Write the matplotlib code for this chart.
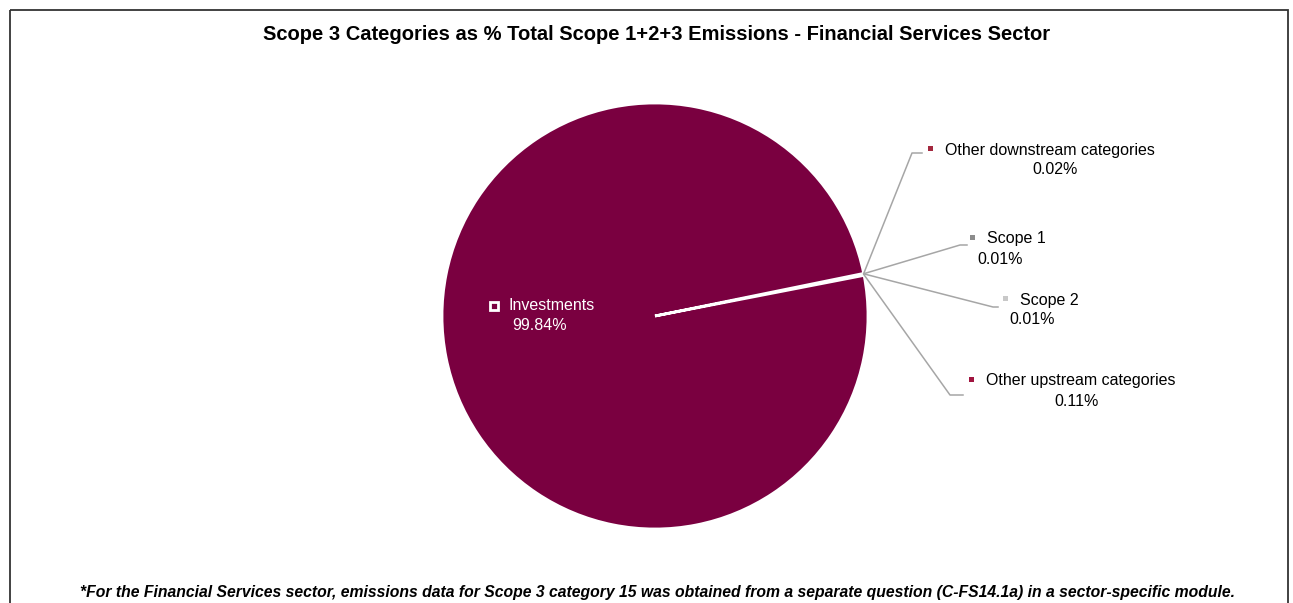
import numpy as np
import matplotlib.pyplot as plt
from matplotlib.patches import Rectangle

# ── Data ──────────────────────────────────────────────────────────────────────
categories = ["Other downstream categories", "Scope 1", "Scope 2",
              "Other upstream categories", "Investments"]
shares     = [0.02, 0.01, 0.01, 0.11, 99.84]
pct_labels = ["0.02%", "0.01%", "0.01%", "0.11%", "99.84%"]
colors     = ["#A3283E", "#8C8C8C", "#C8C8C8", "#A0143F", "#7A0040"]

title    = "Scope 3 Categories as % Total Scope 1+2+3 Emissions - Financial Services Sector"
footnote = ("*For the Financial Services sector, emissions data for Scope 3 category 15 "
            "was obtained from a separate question (C-FS14.1a) in a sector-specific module.")

# label placement in image pixels: marker x, name y, percent centre x, percent y
marker_x = [930, 972, 1005, 971, 494]
name_y   = [150, 239, 300, 381, 306]
pct_x    = [1055, 1000, 1032, 1077, 540]
pct_y    = [170, 259, 320, 401, 325]
elbows   = [((912, 153), (922, 153)), ((960, 245), (967, 245)),
            ((993, 307), (998, 307)), ((950, 395), (963, 395)), None]

plt.rcParams['font.family'] = ['Liberation Sans', 'DejaVu Sans']

W, H = 1293, 603
fig = plt.figure(figsize=(W / 100, H / 100), dpi=100)

# ── Pie ───────────────────────────────────────────────────────────────────────
cx, cy, r = 655, 316, 213
pie_ax = fig.add_axes([(cx - r) / W, (H - cy - r) / H, 2 * r / W, 2 * r / H])
small_total = sum(shares[:4]) / sum(shares) * 360
wedges, _ = pie_ax.pie(shares, colors=colors, startangle=11 + small_total,
                       counterclock=False, radius=1,
                       wedgeprops=dict(edgecolor="white", linewidth=2))
pie_ax.set_xlim(-1, 1); pie_ax.set_ylim(-1, 1)
pie_ax.set_zorder(1)

# overlay in image pixel coordinates
bg = fig.add_axes([0, 0, 1, 1])
bg.set_xlim(0, W); bg.set_ylim(H, 0); bg.axis('off')
bg.set_zorder(2)

bg.add_patch(Rectangle((10, 10), 1278, 620, fill=False, ec="#333333", lw=1.3))

fig.canvas.draw()
to_bg = bg.transData.inverted()

fs = 11.5
for i, (name, pct) in enumerate(zip(categories, pct_labels)):
    mx = marker_x[i]
    if elbows[i] is None:
        bg.add_patch(Rectangle((mx - 4, name_y[i] - 4), 8, 8,
                               fc=colors[i], ec="white", lw=2))
        bg.text(mx + 14, name_y[i], name, ha="left", va="center",
                fontsize=fs, color="white")
        bg.text(pct_x[i], pct_y[i], pct, ha="center", va="center",
                fontsize=fs, color="white")
        continue
    w = wedges[i]
    ang = np.deg2rad((w.theta1 + w.theta2) / 2)
    px, py = pie_ax.transData.transform((np.cos(ang), np.sin(ang)))
    ex, ey = to_bg.transform((px, py))
    (x1, y1), (x2, y2) = elbows[i]
    bg.plot([ex, x1, x2], [ey, y1, y2], color="#A6A6A6", lw=1.1)
    bg.add_patch(Rectangle((mx - 2.5, name_y[i] - 4.5), 5, 5,
                           fc=colors[i], ec="none"))
    bg.text(mx + 15, name_y[i], name, ha="left", va="center", fontsize=fs)
    bg.text(pct_x[i], pct_y[i], pct, ha="center", va="center", fontsize=fs)

bg.text(657, 34, title, ha="center", va="center", fontsize=14.5,
        fontweight="bold")
bg.text(658, 593, footnote, ha="center", va="center", fontsize=11.3,
        fontweight="bold", fontstyle="italic")

fig.savefig("out.png", dpi=100)
